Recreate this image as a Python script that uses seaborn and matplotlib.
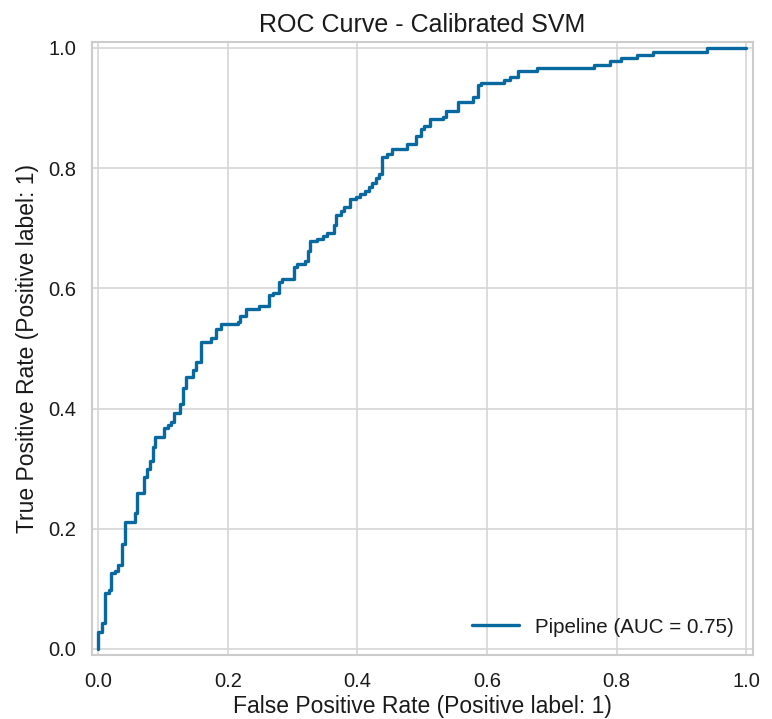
import numpy as np
import pandas as pd
import matplotlib
matplotlib.use("Agg")
import matplotlib.pyplot as plt
import seaborn as sns

fpr = [0.0, 0.0, 0.006, 0.011, 0.016, 0.020, 0.026, 0.031, 0.036, 0.041, 0.056, 0.059,
       0.071, 0.075, 0.080, 0.085, 0.088, 0.102, 0.107, 0.112, 0.116, 0.126, 0.130,
       0.135, 0.146, 0.151, 0.159, 0.174, 0.181, 0.190, 0.215, 0.219, 0.228, 0.248,
       0.264, 0.269, 0.279, 0.283, 0.302, 0.307, 0.319, 0.323, 0.327, 0.338, 0.347,
       0.353, 0.363, 0.367, 0.375, 0.379, 0.388, 0.397, 0.404, 0.412, 0.418, 0.422,
       0.428, 0.433, 0.438, 0.445, 0.453, 0.477, 0.491, 0.498, 0.503, 0.512, 0.532,
       0.537, 0.555, 0.578, 0.586, 0.591, 0.626, 0.636, 0.647, 0.677, 0.765, 0.789,
       0.806, 0.831, 0.856, 0.939, 1.0]
tpr = [0.0, 0.029, 0.044, 0.093, 0.099, 0.126, 0.130, 0.140, 0.174, 0.211, 0.227, 0.260,
       0.286, 0.300, 0.313, 0.336, 0.352, 0.367, 0.372, 0.378, 0.392, 0.408, 0.435,
       0.453, 0.464, 0.478, 0.510, 0.517, 0.532, 0.540, 0.544, 0.554, 0.566, 0.570,
       0.589, 0.593, 0.611, 0.615, 0.635, 0.641, 0.646, 0.662, 0.679, 0.683, 0.687,
       0.692, 0.705, 0.722, 0.728, 0.735, 0.748, 0.752, 0.757, 0.762, 0.769, 0.776,
       0.783, 0.790, 0.818, 0.823, 0.832, 0.841, 0.853, 0.866, 0.871, 0.882, 0.886,
       0.896, 0.910, 0.918, 0.938, 0.942, 0.946, 0.952, 0.962, 0.967, 0.972, 0.978,
       0.983, 0.989, 0.993, 1.0, 1.0]
label = "Pipeline (AUC = 0.75)"
title = "ROC Curve - Calibrated SVM"
xlabel = "False Positive Rate (Positive label: 1)"
ylabel = "True Positive Rate (Positive label: 1)"
ticks = [0.0, 0.2, 0.4, 0.6, 0.8, 1.0]

sns.set_theme(style="whitegrid")
plt.rcParams['font.family'] = ['Liberation Sans', 'DejaVu Sans']
plt.rcParams['axes.edgecolor'] = '#cccccc'
plt.rcParams['grid.color'] = '#d5d5d5'
plt.rcParams['text.color'] = '#1a1a1a'

df = pd.DataFrame({"fpr": fpr, "tpr": tpr})

fig, ax = plt.subplots(figsize=(7.72, 7.19), dpi=100)
fig.subplots_adjust(left=0.119, right=0.975, top=0.9416, bottom=0.089)

sns.lineplot(data=df, x="fpr", y="tpr", ax=ax, estimator=None, sort=False,
             drawstyle="steps-post", color="#0868a0", linewidth=2.4, label=label)

ax.set_xlim(-0.01, 1.01)
ax.set_ylim(-0.01, 1.01)
ax.set_xticks(ticks)
ax.set_yticks(ticks)
ax.set_xticklabels([f"{t:.1f}" for t in ticks], fontsize=14.5, color='#1a1a1a')
ax.set_yticklabels([f"{t:.1f}" for t in ticks], fontsize=14.5, color='#1a1a1a')
ax.tick_params(axis='x', pad=6)
ax.tick_params(axis='y', pad=5)
ax.set_xlabel(xlabel, fontsize=16.5, color='#1a1a1a', labelpad=3)
ax.set_ylabel(ylabel, fontsize=16.5, color='#1a1a1a', labelpad=7)
ax.set_title(title, fontsize=18, color='#1a1a1a', pad=7)
for s in ax.spines.values():
    s.set_linewidth(1.5)
    s.set_color('#cccccc')
ax.grid(True, linewidth=1.2)
leg = ax.legend(loc="lower right", fontsize=14.8, frameon=False, handlelength=2.3)

fig.savefig("out.png", dpi=100)
